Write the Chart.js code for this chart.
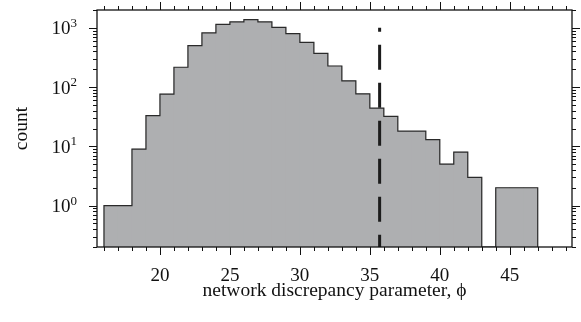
<!DOCTYPE html>
<html>
<head>
<meta charset="utf-8">
<script src="https://cdn.jsdelivr.net/npm/chart.js@4"></script>
<style>
  html, body { margin: 0; padding: 0; background: #fff; }
  #wrap { width: 581px; height: 322px; position: relative; }
</style>
</head>
<body>
<div id="wrap"><canvas id="phi-hist"></canvas></div>
<script>
// histogram of phi, one bin per unit, left edge of each bin
const binLeft = [16, 17, 18, 19, 20, 21, 22, 23, 24, 25, 26, 27, 28, 29, 30, 31,
  32, 33, 34, 35, 36, 37, 38, 39, 40, 41, 42, 43, 44, 45, 46];
const counts = [1, 1, 9, 33, 76, 216, 500, 819, 1148, 1256, 1373, 1256, 1021, 797, 570, 372,
  227, 127, 77, 44, 32, 18, 18, 13, 5, 8, 3, 0, 2, 2, 2];
const binWidth = 1;

// observed value marker
const cutoff = 35.7;
const cutoffTop = 1000;

const xTicks = [20, 25, 30, 35, 40, 45];
const yTicks = [1, 10, 100, 1000];
const xRange = [15.5, 49.45];
const yRange = [0.2, 2000];

const serif = "'Liberation Serif', 'Times New Roman', serif";

const barData = binLeft.map((x, i) => ({ x: x + binWidth / 2, y: counts[i] > 0 ? counts[i] : null }));

// step outline: start and end on the axis floor, empty bins drop to the floor
const outline = [{ x: binLeft[0], y: yRange[0] }];
binLeft.forEach((x, i) => outline.push({ x: x, y: counts[i] > 0 ? counts[i] : yRange[0] }));
outline.push({ x: binLeft[binLeft.length - 1] + binWidth, y: yRange[0] });

// frame, outward ticks on all four sides, and 10^n labels
const frameTicks = {
  id: 'frameTicks',
  afterDatasetsDraw(chart) {
    const { ctx, chartArea: a, scales: { x, y } } = chart;
    ctx.save();
    ctx.strokeStyle = '#111';
    ctx.lineWidth = 1.3;
    ctx.strokeRect(a.left, a.top, a.right - a.left, a.bottom - a.top);
    ctx.lineWidth = 1;
    ctx.beginPath();
    for (let v = 16; v <= 49; v++) {
      const px = Math.round(x.getPixelForValue(v)) + 0.5;
      const len = v % 5 === 0 ? 8 : 4;
      ctx.moveTo(px, a.bottom); ctx.lineTo(px, a.bottom + len);
      ctx.moveTo(px, a.top); ctx.lineTo(px, a.top - len);
    }
    for (let k = -1; k <= 3; k++) {
      for (let m = 1; m <= 9; m++) {
        const v = m * Math.pow(10, k);
        if (v < yRange[0] - 1e-9 || v > yRange[1] + 1e-9) continue;
        const py = Math.round(y.getPixelForValue(v)) + 0.5;
        const len = m === 1 ? 8 : 4;
        ctx.moveTo(a.left, py); ctx.lineTo(a.left - len, py);
        ctx.moveTo(a.right, py); ctx.lineTo(a.right + len, py);
      }
    }
    ctx.stroke();

    ctx.fillStyle = '#111';
    ctx.textBaseline = 'alphabetic';
    yTicks.forEach((v) => {
      const py = y.getPixelForValue(v);
      const exp = String(Math.round(Math.log10(v)));
      ctx.font = '13px ' + serif;
      ctx.textAlign = 'right';
      const right = a.left - 20;
      ctx.fillText(exp, right, py - 1);
      const ew = ctx.measureText(exp).width;
      ctx.font = '19px ' + serif;
      ctx.fillText('10', right - ew, py + 6.5);
    });
    ctx.restore();
  }
};

const ctx = document.getElementById('phi-hist').getContext('2d');
new Chart(ctx, {
  type: 'bar',
  data: {
    datasets: [
      {
        type: 'line',
        data: [{ x: cutoff, y: cutoffTop }, { x: cutoff, y: yRange[0] }],
        borderColor: '#1c1c1c',
        borderWidth: 3,
        borderDash: [25, 13],
        borderDashOffset: 21,
        borderCapStyle: 'butt',
        pointRadius: 0,
        fill: false,
        order: 0,
      },
      {
        type: 'line',
        data: outline,
        stepped: 'before',
        borderColor: '#2a2a2a',
        borderWidth: 1.2,
        pointRadius: 0,
        fill: false,
        order: 1,
      },
      {
        type: 'bar',
        data: barData,
        backgroundColor: '#aeafb1',
        borderWidth: 0,
        barPercentage: 1,
        categoryPercentage: 1,
        order: 2,
      },
    ],
  },
  options: {
    responsive: true,
    maintainAspectRatio: false,
    animation: false,
    layout: { padding: { top: 10, right: 9, left: 0, bottom: 0 } },
    plugins: { legend: { display: false }, tooltip: { enabled: false } },
    scales: {
      x: {
        type: 'linear',
        min: xRange[0],
        max: xRange[1],
        offset: false,
        grid: { display: false, drawTicks: false },
        border: { display: false },
        afterBuildTicks: (scale) => { scale.ticks = xTicks.map(v => ({ value: v })); },
        afterFit: (scale) => { scale.height = 75; scale.paddingLeft = 0; scale.paddingRight = 0; },
        ticks: {
          padding: 18,
          color: '#111',
          font: { family: serif, size: 19 },
          callback: (v) => String(v),
        },
        title: {
          display: true,
          text: 'network discrepancy parameter, \u03D5',
          color: '#111',
          font: { family: serif, size: 19.5 },
          padding: { top: 0, bottom: 19 },
        },
      },
      y: {
        type: 'logarithmic',
        min: yRange[0],
        max: yRange[1],
        grid: { display: false, drawTicks: false },
        border: { display: false },
        afterBuildTicks: (scale) => { scale.ticks = yTicks.map(v => ({ value: v, major: true })); },
        afterFit: (scale) => { scale.width = 97; scale.paddingTop = 0; scale.paddingBottom = 0; },
        ticks: { display: false },
        title: {
          display: true,
          text: 'count',
          color: '#111',
          font: { family: serif, size: 19.5 },
          padding: { top: 10, bottom: 0 },
        },
      },
    },
  },
  plugins: [frameTicks],
});
</script>
</body>
</html>
